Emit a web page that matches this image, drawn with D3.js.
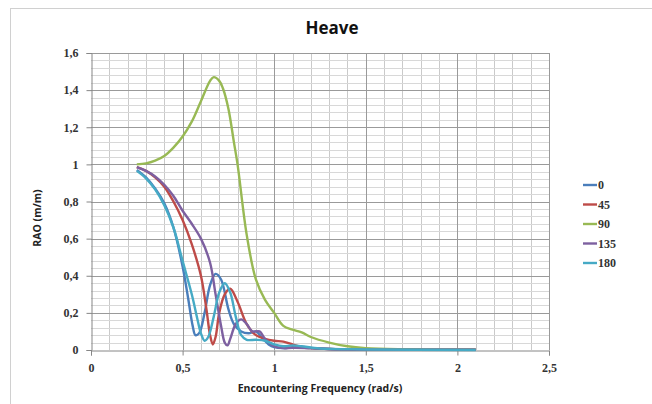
<!DOCTYPE html>
<html><head><meta charset="utf-8">
<script src="https://cdn.jsdelivr.net/npm/d3@7"></script>
<style>body{margin:0;background:#fff}svg{display:block}</style>
</head><body><svg id="c" width="652" height="404"></svg>
<script>
const seriesNames = ["0","45","90","135","180"];
const seriesColors = ["#4A7EBB","#BE4B48","#98B954","#7D60A0","#46AAC5"];
const s0 = [[0.25,0.97],[0.3,0.93],[0.35,0.87],[0.4,0.79],[0.45,0.66],[0.5,0.45],[0.53,0.28],[0.555,0.13],[0.57,0.08],[0.59,0.09],[0.62,0.2],[0.65,0.35],[0.68,0.41],[0.71,0.38],[0.75,0.22],[0.78,0.14],[0.82,0.1],[0.86,0.09],[0.9,0.1],[0.93,0.07],[0.97,0.03],[1.0,0.015],[1.05,0.01],[1.1,0.015],[1.2,0.01],[1.3,0.005],[1.5,0.002],[2.1,0.001]];
const s45 = [[0.25,0.985],[0.3,0.965],[0.35,0.93],[0.4,0.88],[0.45,0.8],[0.5,0.7],[0.55,0.57],[0.6,0.4],[0.63,0.22],[0.65,0.08],[0.665,0.03],[0.68,0.07],[0.7,0.2],[0.73,0.3],[0.76,0.33],[0.8,0.26],[0.85,0.14],[0.9,0.08],[0.95,0.06],[1.0,0.05],[1.05,0.045],[1.1,0.03],[1.15,0.015],[1.2,0.01],[1.3,0.005],[1.5,0.002],[2.1,0.001]];
const s90 = [[0.25,1.0],[0.3,1.005],[0.35,1.02],[0.4,1.045],[0.45,1.09],[0.5,1.15],[0.55,1.23],[0.6,1.34],[0.65,1.45],[0.67,1.47],[0.7,1.45],[0.72,1.41],[0.75,1.3],[0.78,1.12],[0.8,1.0],[0.85,0.62],[0.9,0.38],[0.95,0.27],[1.0,0.2],[1.05,0.13],[1.1,0.11],[1.15,0.095],[1.2,0.07],[1.3,0.04],[1.4,0.02],[1.5,0.01],[1.7,0.004],[2.1,0.001]];
const s135 = [[0.25,0.985],[0.3,0.965],[0.35,0.935],[0.4,0.89],[0.45,0.83],[0.5,0.75],[0.55,0.68],[0.6,0.6],[0.65,0.47],[0.68,0.3],[0.71,0.13],[0.73,0.04],[0.745,0.025],[0.76,0.06],[0.79,0.14],[0.82,0.165],[0.85,0.14],[0.88,0.1],[0.92,0.1],[0.95,0.06],[1.0,0.02],[1.05,0.01],[1.1,0.012],[1.2,0.01],[1.3,0.005],[1.5,0.002],[2.1,0.001]];
const s180 = [[0.25,0.965],[0.3,0.925],[0.35,0.865],[0.4,0.78],[0.45,0.66],[0.5,0.48],[0.55,0.3],[0.58,0.17],[0.6,0.09],[0.62,0.05],[0.64,0.07],[0.67,0.18],[0.7,0.31],[0.73,0.36],[0.76,0.31],[0.79,0.18],[0.82,0.08],[0.85,0.055],[0.9,0.055],[0.95,0.05],[1.0,0.03],[1.05,0.02],[1.1,0.025],[1.15,0.02],[1.25,0.008],[1.5,0.003],[2.1,0.0]];
const seriesData = [s0,s45,s90,s135,s180];
const xTicks = [0,0.5,1,1.5,2,2.5];
const yTicks = [0,0.2,0.4,0.6,0.8,1,1.2,1.4,1.6];
const titleText = "Heave";
const xLabel = "Encountering Frequency (rad/s)";
const yLabel = "RAO (m/m)";

const svg = d3.select("#c");
const font = "'Open Sans', 'DejaVu Sans', sans-serif";
const serif = "'Liberation Serif', 'DejaVu Serif', serif";
svg.append("rect").attr("x",10.5).attr("y",8.5).attr("width",660).attr("height",420)
  .attr("fill","#fff").attr("stroke","#d0d0d0");

const x = d3.scaleLinear().domain([0,2.5]).range([91,549]);
const y = d3.scaleLinear().domain([0,1.6]).range([350,53]);
const fmt = v => String(v).replace(".", ",");

const g = svg.append("g");
// minor grid
d3.range(1,25).forEach(k=>{
  if (k % 5 === 0) return;
  const v = k/10;
  g.append("line").attr("x1",Math.round(x(v))+0.5).attr("x2",Math.round(x(v))+0.5).attr("y1",y(1.6)).attr("y2",y(0)).attr("stroke","#cacaca");
});
d3.range(1,40).forEach(k=>{
  if (k % 5 === 0) return;
  const v = k*0.04;
  g.append("line").attr("y1",Math.round(y(v))+0.5).attr("y2",Math.round(y(v))+0.5).attr("x1",x(0)).attr("x2",x(2.5)).attr("stroke","#d8d8d8");
});
// major grid
xTicks.slice(1).forEach(v=>{
  g.append("line").attr("x1",Math.round(x(v))+0.5).attr("x2",Math.round(x(v))+0.5).attr("y1",y(1.6)).attr("y2",y(0)).attr("stroke","#9a9a9a");
});
yTicks.slice(1).forEach(v=>{
  g.append("line").attr("y1",Math.round(y(v))+0.5).attr("y2",Math.round(y(v))+0.5).attr("x1",x(0)).attr("x2",x(2.5)).attr("stroke","#9a9a9a");
});

const xAxis = svg.append("g").attr("transform","translate(0,350.5)")
  .call(d3.axisBottom(x).tickValues(xTicks).tickFormat(fmt).tickSize(5).tickPadding(8));
const yAxis = svg.append("g").attr("transform","translate(91.5,0)")
  .call(d3.axisLeft(y).tickValues(yTicks).tickFormat(fmt).tickSize(5).tickPadding(8));
[xAxis,yAxis].forEach(a=>{
  a.selectAll("path,line").attr("stroke","#868686");
  a.selectAll("text").attr("font-family",serif).attr("font-size",12).attr("font-weight","bold").attr("fill","#333");
});

const line = d3.line().x(d=>x(d[0])).y(d=>y(Math.max(0,d[1]))).curve(d3.curveCatmullRom.alpha(0.5));
seriesData.forEach((s,i)=>{
  svg.append("path").datum(s).attr("d",line).attr("fill","none")
    .attr("stroke",seriesColors[i]).attr("stroke-width",2.4).attr("stroke-linejoin","round");
});

svg.append("text").attr("x",332).attr("y",34).attr("text-anchor","middle")
  .attr("font-family",font).attr("font-weight","bold").attr("font-size",17).attr("fill","#111").text(titleText);
svg.append("text").attr("x",320).attr("y",392).attr("text-anchor","middle")
  .attr("font-family",font).attr("font-weight","bold").attr("font-size",10.5).attr("fill","#222").text(xLabel);
svg.append("text").attr("transform","translate(41,218) rotate(-90)").attr("text-anchor","middle")
  .attr("font-family",font).attr("font-weight","bold").attr("font-size",10.5).attr("fill","#222").text(yLabel);

const leg = svg.append("g");
seriesNames.forEach((n,i)=>{
  const yy = 185 + i*19.5;
  leg.append("line").attr("x1",583).attr("x2",597).attr("y1",yy).attr("y2",yy).attr("stroke",seriesColors[i]).attr("stroke-width",2.4);
  leg.append("text").attr("x",598).attr("y",yy+4).attr("font-family",serif).attr("font-weight","bold").attr("font-size",12).attr("fill","#333").text(n);
});
</script></body></html>
